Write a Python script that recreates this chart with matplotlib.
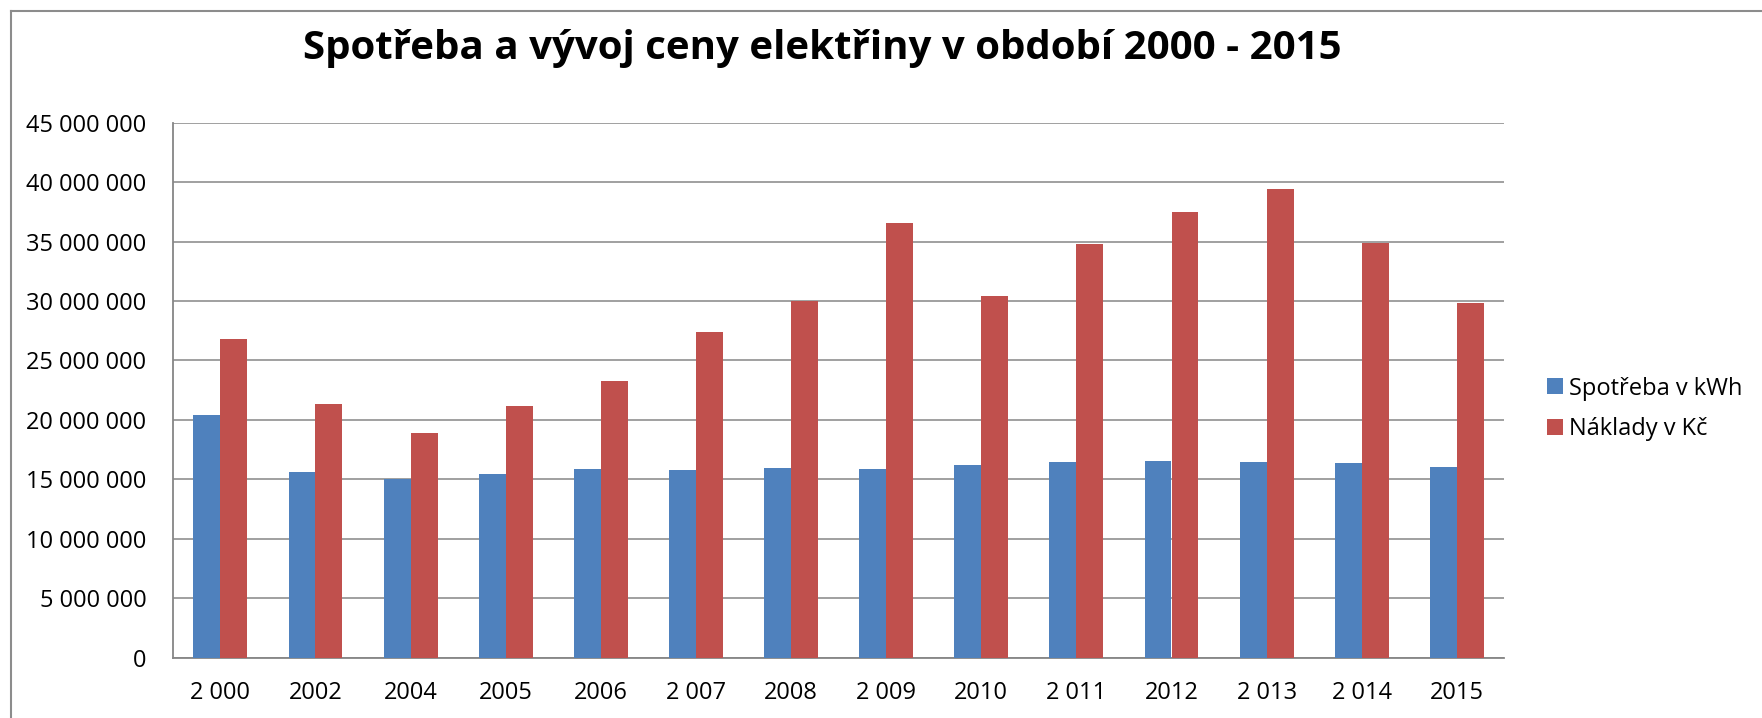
#electricity consumption and cost chart

from matplotlib import pyplot as plt
from matplotlib.lines import Line2D
from matplotlib.ticker import FuncFormatter
import numpy as np

years = ['2 000', '2002', '2004', '2005', '2006', '2 007', '2008', '2 009',
         '2010', '2 011', '2012', '2 013', '2 014', '2015']
spotreba = [20390000, 15660000, 14990000, 15490000, 15910000, 15750000, 15940000,
            15830000, 16250000, 16450000, 16530000, 16450000, 16390000, 16030000]
naklady = [26780000, 21380000, 18860000, 21200000, 23250000, 27370000, 29970000,
           36530000, 30400000, 34820000, 37450000, 39390000, 34850000, 29830000]

plt.rcParams['font.family'] = ['Open Sans', 'DejaVu Sans']

W, H = 1762, 718
fig = plt.figure(figsize=(W / 100, H / 100), dpi=100)
ax = fig.add_axes([172.8 / W, 1 - 657.7 / H, (1504.4 - 172.8) / W, (657.7 - 122.7) / H])

x = np.arange(len(years))
bw = 0.283
ax.bar(x - bw / 2, spotreba, bw, color='#4F81BD', label='Spotřeba v kWh', zorder=3)
ax.bar(x + bw / 2, naklady, bw, color='#C0504D', label='Náklady v Kč', zorder=3)

ax.set_xlim(-0.5, len(years) - 0.5)
ax.set_ylim(0, 45000000)
ax.set_yticks(np.arange(0, 45000001, 5000000))
ax.yaxis.set_major_formatter(FuncFormatter(lambda v, p: f"{int(v):,}".replace(',', ' ')))
ax.set_xticks(x)
ax.set_xticklabels(years)
ax.grid(axis='y', color='#868686', linewidth=1.1, zorder=0)
ax.tick_params(axis='both', length=0, labelsize=17)
ax.tick_params(axis='y', pad=19)
ax.tick_params(axis='x', pad=17)
for s in ['top', 'right']:
    ax.spines[s].set_visible(False)
for s in ['left', 'bottom']:
    ax.spines[s].set_color('#868686')
    ax.spines[s].set_linewidth(1.3)

fig.text(822.5 / W, 1 - 59.3 / H, 'Spotřeba a vývoj ceny elektřiny v období 2000 - 2015',
         ha='center', va='baseline', fontsize=29, fontweight='bold')

fig.legend(loc='center left', bbox_to_anchor=(1547 / W, 1 - 409 / H), frameon=False,
           fontsize=17, handlelength=0.67, handleheight=0.67, handletextpad=0.27,
           labelspacing=0.7, borderpad=0, borderaxespad=0)

# outer chart border (only left and top edges are in the picture)
fig.add_artist(Line2D([10.5 / W, 10.5 / W], [0, 1 - 10.5 / H], color='#8c8c8c', linewidth=1.5))
fig.add_artist(Line2D([10.5 / W, 1], [1 - 10.5 / H, 1 - 10.5 / H], color='#8c8c8c', linewidth=1.5))

plt.savefig('out.png', dpi=100)
